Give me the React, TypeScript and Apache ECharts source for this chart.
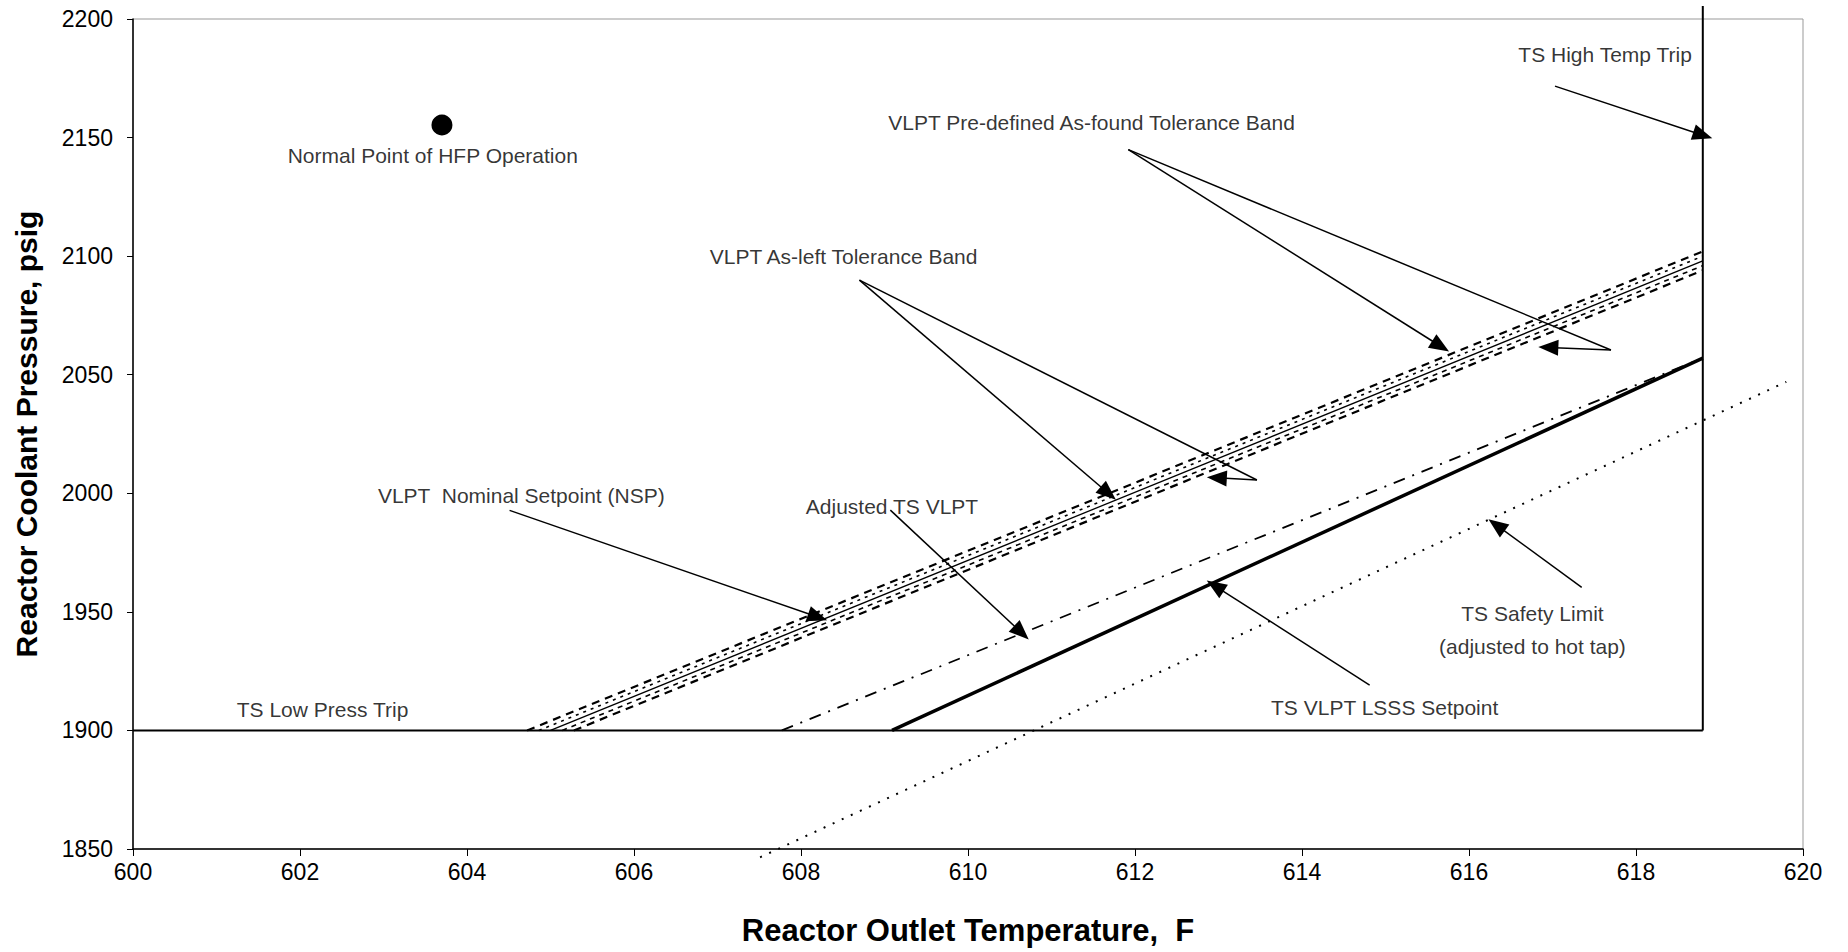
import React, { useEffect, useRef } from "react";
import * as echarts from "echarts";

// Axis settings
const xTicks = { min: 600, max: 620, interval: 2 };
const yTicks = { min: 1850, max: 2200, interval: 50 };

// Curves (temperature F, pressure psig)
const lowPressT = [600, 618.8];
const lowPressP = [1900, 1900];
const highTempT = [618.8, 618.8];
const highTempP = [1900, 2205.5];
const nspT = [605.0, 618.8];
const nspP = [1900, 2098];
const afUpperT = [604.72, 618.8];
const afUpperP = [1900, 2102];
const afLowerT = [605.28, 618.8];
const afLowerP = [1900, 2094];
const alUpperT = [604.86, 618.8];
const alUpperP = [1900, 2100];
const alLowerT = [605.14, 618.8];
const alLowerP = [1900, 2096];
const adjustedT = [607.77, 618.8];
const adjustedP = [1900, 2057];
const lsssT = [609.09, 618.8];
const lsssP = [1900, 2057];
const safetyT = [607.51, 619.8];
const safetyP = [1846.5, 2047];
const hfpPoint = [603.7, 2155.3];

// Text annotations
const labelTexts = [
  "TS High Temp Trip",
  "VLPT Pre-defined As-found Tolerance Band",
  "VLPT As-left Tolerance Band",
  "VLPT  Nominal Setpoint (NSP)",
  "Adjusted TS VLPT",
  "TS VLPT LSSS Setpoint",
  "TS Safety Limit",
  "(adjusted to hot tap)",
  "TS Low Press Trip",
  "Normal Point of HFP Operation",
];
const labelT = [617.63, 611.48, 608.51, 604.65, 609.09, 614.99, 616.76, 616.76, 602.27, 603.59];
const labelP = [2185.2, 2156.3, 2099.7, 1999.2, 1994.3, 1909.7, 1949.5, 1935.6, 1908.8, 2142.4];

// Leader lines: start T, start P, end T, end P, arrowhead at end (1/0)
const leaderT1 = [617.03, 611.92, 611.92, 617.7, 608.7, 608.7, 613.46, 604.51, 609.07, 614.81, 617.35];
const leaderP1 = [2171.7, 2144.9, 2144.9, 2060.4, 2089.9, 2089.9, 2005.6, 1992.8, 1992.9, 1919.1, 1960.3];
const leaderT2 = [618.8, 615.66, 617.7, 616.95, 611.68, 613.46, 612.98, 608.2, 610.64, 612.96, 616.33];
const leaderP2 = [2151, 2062, 2060.4, 2061.5, 2000, 2005.6, 2006.5, 1947.8, 1941.2, 1960.9, 1986.6];
const leaderHead = [1, 1, 0, 1, 1, 0, 1, 1, 1, 1, 1];

const FONT = "'Liberation Sans', Arial, sans-serif";

function pts(xs: number[], ys: number[]) {
  return xs.map((x, i) => [x, ys[i]]);
}

function lineSeries(name: string, xs: number[], ys: number[], lineStyle: any, z = 3) {
  return {
    type: "line",
    name,
    data: pts(xs, ys),
    symbol: "none",
    clip: false,
    lineStyle: { color: "#000", ...lineStyle },
    z,
    silent: true,
  };
}

export default function App() {
  const ref = useRef<HTMLDivElement>(null);
  useEffect(() => {
    if (!ref.current) return;
    const chart = echarts.init(ref.current, undefined, { renderer: "svg" });
    const markLineData = leaderT1.map((t, i) => [
      { coord: [t, leaderP1[i]], symbol: "none" },
      { coord: [leaderT2[i], leaderP2[i]], symbol: leaderHead[i] ? "triangle" : "none" },
    ]);
    const option: any = {
      animation: false,
      backgroundColor: "#fff",
      grid: {
        left: 133,
        right: 45,
        top: 19,
        bottom: 103,
        show: true,
        borderColor: "#999",
        borderWidth: 1,
      },
      xAxis: {
        type: "value",
        min: xTicks.min,
        max: xTicks.max,
        interval: xTicks.interval,
        name: "Reactor Outlet Temperature,  F",
        nameLocation: "middle",
        nameGap: 66,
        nameTextStyle: { fontFamily: FONT, fontSize: 31, fontWeight: "bold", color: "#000" },
        axisLine: { show: true, onZero: false, lineStyle: { color: "#000", width: 1.5 } },
        axisTick: { show: true, length: 7, lineStyle: { color: "#000" } },
        axisLabel: {
          fontFamily: FONT,
          fontSize: 23,
          color: "#000",
          margin: 11,
          formatter: (v: number) => String(v),
        },
        splitLine: { show: false },
      },
      yAxis: {
        type: "value",
        min: yTicks.min,
        max: yTicks.max,
        interval: yTicks.interval,
        name: "Reactor Coolant Pressure, psig",
        nameLocation: "middle",
        nameGap: 92,
        nameTextStyle: { fontFamily: FONT, fontSize: 30, fontWeight: "bold", color: "#000" },
        axisLine: { show: true, onZero: false, lineStyle: { color: "#000", width: 1.5 } },
        axisTick: { show: true, length: 6, lineStyle: { color: "#000" } },
        axisLabel: {
          fontFamily: FONT,
          fontSize: 23,
          color: "#000",
          margin: 20,
          formatter: (v: number) => String(v),
        },
        splitLine: { show: false },
      },
      series: [
        lineSeries("TS Low Press Trip", lowPressT, lowPressP, { width: 2 }),
        lineSeries("TS High Temp Trip", highTempT, highTempP, { width: 2 }),
        lineSeries("As-found upper", afUpperT, afUpperP, { width: 2.2, type: [8, 6] }),
        lineSeries("As-left upper", alUpperT, alUpperP, { width: 1.6, type: [3, 5] }),
        lineSeries("NSP", nspT, nspP, { width: 1.3 }),
        lineSeries("As-left lower", alLowerT, alLowerP, { width: 1.6, type: [5, 5] }),
        lineSeries("As-found lower", afLowerT, afLowerP, { width: 2.2, type: [8, 6] }),
        lineSeries("Adjusted TS VLPT", adjustedT, adjustedP, { width: 1.8, type: [12, 8, 2, 8] }),
        lineSeries("TS VLPT LSSS Setpoint", lsssT, lsssP, { width: 3.5 }),
        lineSeries("TS Safety Limit", safetyT, safetyP, { width: 2, type: [2, 8] }),
        {
          type: "scatter",
          name: "HFP",
          data: [hfpPoint],
          symbol: "circle",
          symbolSize: 21,
          itemStyle: { color: "#000", opacity: 1 },
          z: 5,
          silent: true,
        },
        {
          type: "scatter",
          name: "annotations",
          data: labelTexts.map((t, i) => ({ value: [labelT[i], labelP[i]], name: t })),
          symbolSize: 1,
          itemStyle: { color: "rgba(0,0,0,0)" },
          label: {
            show: true,
            position: "inside",
            formatter: "{b}",
            fontFamily: FONT,
            fontSize: 21,
            color: "#000",
          },
          z: 6,
          silent: true,
          markLine: {
            silent: true,
            animation: false,
            symbolSize: [16, 20],
            label: { show: false },
            lineStyle: { color: "#000", width: 1.5, type: "solid" },
            emphasis: { disabled: true },
            data: markLineData,
          },
        },
      ],
    };
    chart.setOption(option);
    return () => chart.dispose();
  }, []);
  return (
    <div
      ref={ref}
      style={{ position: "fixed", left: 0, top: 0, width: 1848, height: 952, background: "#fff" }}
    />
  );
}
